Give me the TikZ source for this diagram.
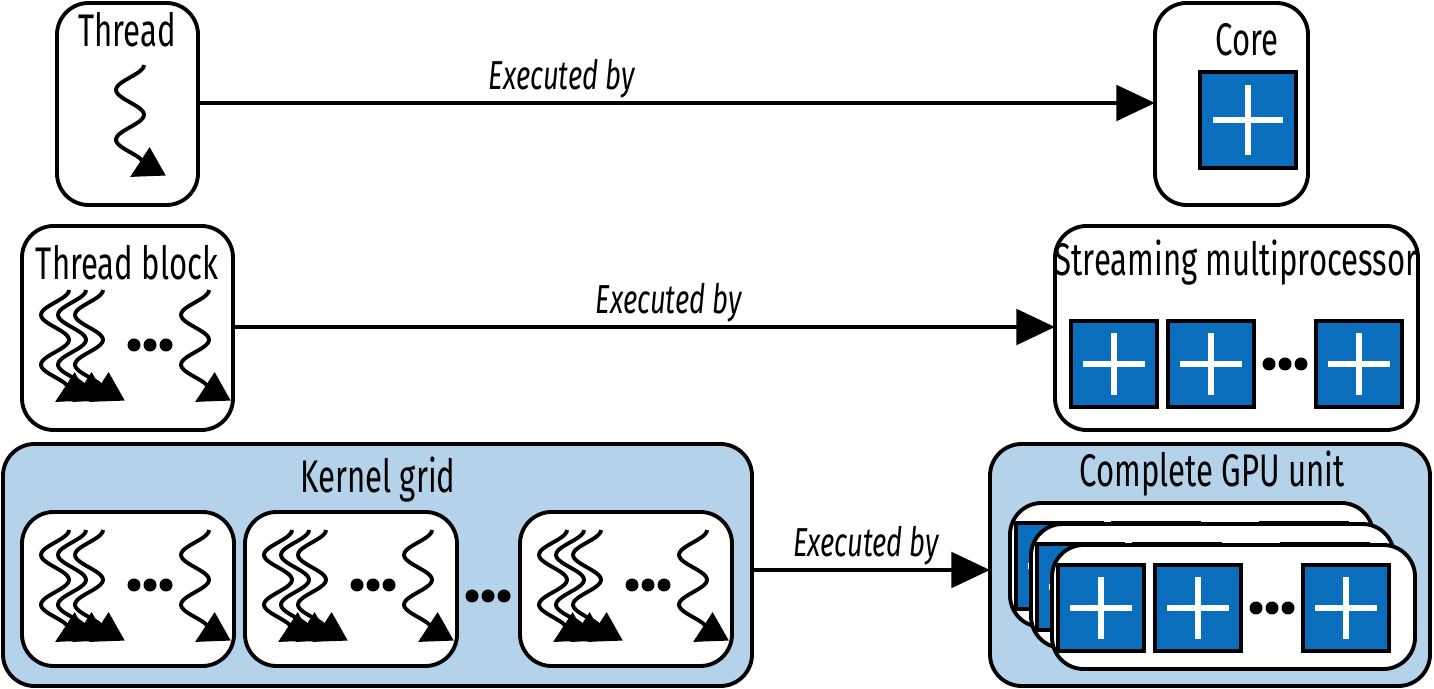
\documentclass[tikz,border=0pt]{standalone}
\usepackage{fontspec}
\setmainfont{Fira Sans}[FakeStretch=0.68]
\usetikzlibrary{arrows.meta, positioning, calc}
\definecolor{cxcore}{HTML}{0A6EBD}
\definecolor{cxgrid}{HTML}{B4D3EA}

\tikzset{
  thread/.pic={
    \draw[line width=1.1pt, -{Triangle[length=9pt, width=9pt]}]
      plot[domain=0:1, samples=60, smooth] ({14*sin(-630+810*\x)}, {112*\x});
  },
  threads/.pic={
    \foreach \dx in {0,17,34} {\pic at (\dx,0) {thread};}
    \foreach \dx in {79,95,111} {\fill (\dx,55) circle (6.5);}
    \pic at (140,0) {thread};
  },
}

\begin{document}
\begin{tikzpicture}[x=0.01cm, y=-0.01cm,
  box/.style={draw, line width=1.1pt, rounded corners=9pt, fill=white, inner sep=0pt},
  outer/.style={box, fill=cxgrid},
  label/.style={font=\fontsize{13}{15}\selectfont},
  exec/.style={font=\itshape\fontsize{11.5}{13}\selectfont},
  link/.style={line width=1.4pt, -{Triangle[length=11pt, width=10pt]}},
]
\useasboundingbox (0,0) rectangle (1434,689);

% Core unit: square with a white cross
\newcommand\corebox[3]{%
  \draw[line width=1.1pt, fill=cxcore] ($(#1,#2)-(#3/2,#3/2)$) rectangle ($(#1,#2)+(#3/2,#3/2)$);
  \draw[white, line width=1.8pt] ($(#1,#2)-(#3*0.36,0)$) -- ($(#1,#2)+(#3*0.36,0)$)
    ($(#1,#2)-(0,#3*0.36)$) -- ($(#1,#2)+(0,#3*0.36)$);}
% SM row of cores
\newcommand\smrow[2]{%
  \corebox{#1+44}{#2}{86}\corebox{#1+141}{#2}{86}\corebox{#1+289}{#2}{86}
  \foreach \dx in {-16,0,16} {\fill (#1+215+\dx,#2) circle (6.5);}}

% Row 1
\draw[box] (57,3) rectangle (198,205);
\node[label] (thread) at (127,30) {Thread};
\pic at (130,65) {thread};
\draw[box] (1155,3) rectangle (1308,205);
\node[label] (core) at (1247,40) {Core};
\corebox{1248}{120}{96}
\coordinate (t1) at (198,103);
\coordinate (c1) at (1155,103);
\draw[link] (t1) -- (c1) node[exec, pos=0.38, yshift=7pt] {Executed by};

% Row 2
\draw[box] (22,226) rectangle (233,430);
\node[label] (block) at (127,263) {Thread block};
\pic at (55,290) {threads};
\draw[box] (1055,226) rectangle (1418,430);
\node[label] (sm) at (1236,263) {Streaming multiprocessor};
\smrow{1070}{364}
\coordinate (t2) at (233,327);
\coordinate (c2) at (1055,327);
\draw[link] (t2) -- (c2) node[exec, pos=0.53, yshift=7pt] {Executed by};

% Row 3
\draw[outer] (3,444) rectangle (752,686);
\node[label] (grid) at (378,480) {Kernel grid};
\foreach \bx in {22,245,520} {
  \draw[box] (\bx,512) rectangle (\bx+212,666);
  \pic at (\bx+33,530) {threads};
}
\foreach \dx in {-16,0,16} {\fill (488+\dx,596) circle (6.5);}
\draw[outer] (990,444) rectangle (1430,686);
\node[label] (gpu) at (1212,474) {Complete GPU unit};
\foreach \off in {0,21,42} {
  \draw[box] (1010+\off,503+\off) rectangle (1373+\off,627+\off);
  \smrow{1015+\off}{566+\off}
}
\coordinate (t3) at (752,570);
\coordinate (c3) at (990,570);
\draw[link] (t3) -- (c3) node[exec, pos=0.48, yshift=7pt] {Executed by};
\end{tikzpicture}
\end{document}
